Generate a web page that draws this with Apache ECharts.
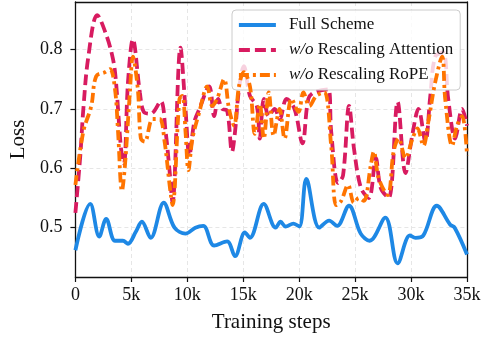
<!DOCTYPE html>
<html>
<head>
<meta charset="utf-8">
<script src="https://cdn.jsdelivr.net/npm/echarts@6/dist/echarts.min.js"></script>
<style>html,body{margin:0;padding:0;background:#fff}#c{width:484px;height:338px}</style>
</head>
<body>
<div id="c"></div>
<script>
// Training steps in thousands (k)
var stepsFull = [0, 1.33, 2.13, 2.75, 3.54, 4.25, 4.7, 5.4, 5.94, 6.73, 7.89, 8.86, 9.84, 10.72, 11.43, 12.4, 13.56, 14.27, 15.15, 15.6, 16.83, 17.9, 18.34, 18.78, 19.49, 20.02, 20.64, 21.8, 22.68, 23.39, 24.45, 25.5, 26.3, 27.7, 28.8, 29.9, 30.4, 31.1, 32.3, 33.5, 33.9, 35];
var lossFull = [0.462, 0.54, 0.485, 0.515, 0.478, 0.478, 0.473, 0.493, 0.51, 0.483, 0.542, 0.50, 0.49, 0.50, 0.503, 0.47, 0.477, 0.452, 0.492, 0.483, 0.54, 0.50, 0.51, 0.502, 0.507, 0.502, 0.582, 0.50, 0.512, 0.503, 0.537, 0.49, 0.478, 0.517, 0.44, 0.487, 0.483, 0.487, 0.537, 0.505, 0.50, 0.455];

var stepsAttn = [0, 0.44, 0.71, 1.15, 1.95, 2.75, 3.37, 3.63, 4.08, 4.34, 4.7, 5.14, 5.76, 6.11, 6.73, 7.62, 8.06, 8.42, 8.68, 9.39, 9.84, 10.19, 10.63, 11.08, 11.96, 12.4, 12.76, 13.11, 13.56, 14.0, 14.27, 14.62, 15.06, 15.6, 16.21, 16.48, 16.84, 17.28, 17.81, 18.25, 18.87, 19.58, 20.29, 20.82, 21.35, 22.59, 22.86, 23.48, 23.92, 24.46, 24.9, 25.52, 26.23, 26.85, 27.29, 28.0, 28.8, 29.5, 30.13, 30.66, 31.28, 31.72, 32.16, 32.87, 33.32, 33.94, 34.56, 35];
var lossAttn = [0.525, 0.622, 0.70, 0.787, 0.858, 0.825, 0.783, 0.745, 0.633, 0.608, 0.745, 0.817, 0.728, 0.695, 0.692, 0.713, 0.662, 0.595, 0.542, 0.803, 0.70, 0.622, 0.678, 0.70, 0.738, 0.688, 0.717, 0.70, 0.697, 0.628, 0.662, 0.733, 0.772, 0.722, 0.705, 0.65, 0.717, 0.688, 0.70, 0.683, 0.717, 0.70, 0.642, 0.717, 0.728, 0.733, 0.662, 0.575, 0.588, 0.705, 0.633, 0.567, 0.55, 0.617, 0.567, 0.55, 0.712, 0.592, 0.658, 0.70, 0.645, 0.722, 0.788, 0.795, 0.717, 0.65, 0.70, 0.672];

var stepsRope = [0, 0.71, 1.42, 1.86, 2.66, 3.1, 3.54, 3.81, 4.16, 4.43, 4.87, 5.14, 5.58, 5.85, 6.2, 6.91, 7.53, 7.97, 8.42, 8.68, 9.3, 9.57, 9.84, 10.1, 10.46, 11.08, 11.78, 12.23, 12.67, 13.29, 13.73, 14.18, 14.62, 15.06, 15.6, 16.04, 16.48, 16.84, 17.28, 17.72, 18.25, 18.7, 19.32, 19.94, 20.38, 20.91, 21.53, 22.24, 22.86, 23.3, 23.75, 24.37, 24.9, 25.34, 25.78, 26.4, 26.67, 27.11, 27.91, 28.44, 28.89, 29.5, 30.13, 30.57, 31.1, 31.54, 32.16, 32.78, 33.05, 33.67, 34.11, 34.56, 35];
var lossRope = [0.572, 0.662, 0.705, 0.755, 0.762, 0.767, 0.733, 0.662, 0.562, 0.605, 0.728, 0.788, 0.733, 0.65, 0.645, 0.683, 0.683, 0.645, 0.572, 0.538, 0.717, 0.722, 0.662, 0.597, 0.65, 0.695, 0.738, 0.705, 0.717, 0.75, 0.70, 0.672, 0.738, 0.762, 0.738, 0.658, 0.708, 0.65, 0.728, 0.655, 0.70, 0.65, 0.717, 0.695, 0.728, 0.705, 0.722, 0.728, 0.638, 0.538, 0.545, 0.572, 0.542, 0.55, 0.545, 0.605, 0.628, 0.583, 0.555, 0.628, 0.65, 0.617, 0.65, 0.667, 0.638, 0.678, 0.745, 0.788, 0.717, 0.638, 0.672, 0.688, 0.622];

var xTicks = [0, 5, 10, 15, 20, 25, 30, 35];
var yTicks = [0.5, 0.6, 0.7, 0.8];
var seriesNames = ['Full Scheme', 'w/o Rescaling Attention', 'w/o Rescaling RoPE'];

function pairs(xs, ys) { return xs.map(function (x, i) { return [x, ys[i]]; }); }

var FONT = 'Liberation Serif';
var X_MIN = 0, X_MAX = 35, Y_MIN = 0.417, Y_MAX = 0.88;
var LW = 3.8;
var frameLine = { show: true, onZero: false, lineStyle: { color: '#111', width: 1.3 } };
var chart = echarts.init(document.getElementById('c'), null, { renderer: 'canvas' });
chart.setOption({
  animation: false,
  backgroundColor: '#fff',
  grid: { left: 72, right: 17, top: 2, bottom: 58, show: false },
  legend: {
    orient: 'vertical',
    left: 232, top: 10,
    padding: [5, 7, 5, 5],
    itemGap: 5,
    itemWidth: 37,
    itemHeight: 14,
    backgroundColor: 'rgba(255,255,255,0.8)',
    borderColor: '#cccccc',
    borderWidth: 1,
    borderRadius: 4,
    data: seriesNames,
    itemStyle: { opacity: 0, borderWidth: 0 },
    lineStyle: { width: LW },
    formatter: function (name) {
      if (name.indexOf('w/o ') === 0) return '{i|w/o}{t| ' + name.slice(4) + '}';
      return '{t|' + name + '}';
    },
    textStyle: {
      fontFamily: FONT, fontSize: 17, color: '#111', lineHeight: 20, padding: [0, 0, 0, 8],
      rich: {
        i: { fontFamily: FONT, fontSize: 17, fontStyle: 'italic', color: '#111', lineHeight: 20 },
        t: { fontFamily: FONT, fontSize: 17, color: '#111', lineHeight: 20 }
      }
    }
  },
  xAxis: [{
    type: 'value', min: X_MIN, max: X_MAX, interval: 5,
    name: 'Training steps', nameLocation: 'middle', nameGap: 35,
    nameTextStyle: { fontFamily: FONT, fontSize: 21, color: '#111' },
    axisLine: frameLine,
    axisTick: { show: true, length: 5, lineStyle: { color: '#111', width: 1.2 } },
    axisLabel: { fontFamily: FONT, fontSize: 18, color: '#111', margin: 9,
      formatter: function (v) { return v === 0 ? '0' : v + 'k'; } },
    splitLine: { show: true, lineStyle: { color: '#e3e3e3', width: 0.9, type: [4, 3] } }
  }, {
    type: 'value', min: X_MIN, max: X_MAX, position: 'top',
    axisLine: frameLine, axisTick: { show: false }, axisLabel: { show: false }, splitLine: { show: false }
  }],
  yAxis: [{
    type: 'value', min: Y_MIN, max: Y_MAX,
    name: 'Loss', nameLocation: 'middle', nameGap: 44, nameRotate: 90,
    nameTextStyle: { fontFamily: FONT, fontSize: 21, color: '#111' },
    axisLine: frameLine,
    axisTick: { show: true, length: 5, customValues: yTicks, lineStyle: { color: '#111', width: 1.2 } },
    axisLabel: { fontFamily: FONT, fontSize: 18, color: '#111', margin: 13, customValues: yTicks,
      formatter: function (v) { return v.toFixed(1); } },
    splitLine: { show: true, lineStyle: { color: '#e3e3e3', width: 0.9, type: [4, 3] } }
  }, {
    type: 'value', min: Y_MIN, max: Y_MAX, position: 'right',
    axisLine: frameLine, axisTick: { show: false }, axisLabel: { show: false }, splitLine: { show: false }
  }],
  series: [
    { name: seriesNames[0], type: 'line', data: pairs(stepsFull, lossFull), smooth: 0.35, symbol: 'none', z: 2,
      lineStyle: { color: '#1E88E5', width: LW }, itemStyle: { color: '#1E88E5' } },
    { name: seriesNames[1], type: 'line', data: pairs(stepsAttn, lossAttn), smooth: 0.35, symbol: 'none', z: 3,
      lineStyle: { color: '#D81B60', width: LW, type: [11, 5] }, itemStyle: { color: '#D81B60' } },
    { name: seriesNames[2], type: 'line', data: pairs(stepsRope, lossRope), smooth: 0.35, symbol: 'none', z: 4,
      lineStyle: { color: '#FF7400', width: LW, type: [10, 4, 3, 4] }, itemStyle: { color: '#FF7400' } }
  ]
});
</script>
</body>
</html>
